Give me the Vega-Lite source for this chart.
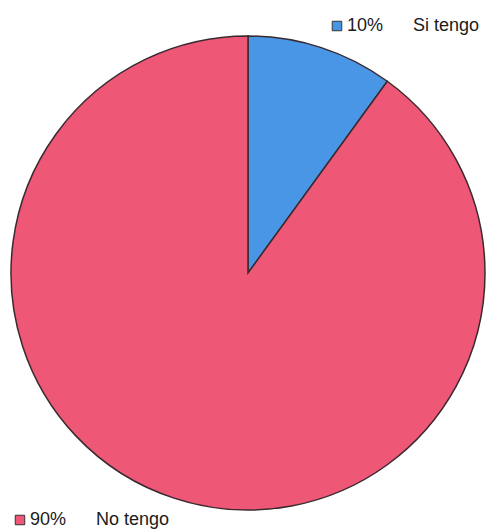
{
  "$schema": "https://vega.github.io/schema/vega-lite/v6.json",
  "width": 474,
  "height": 474,
  "autosize": {"type": "none"},
  "padding": {"left": 11, "top": 36, "right": 2, "bottom": 22},
  "background": "white",
  "config": {"view": {"stroke": null}, "font": "Liberation Sans"},
  "data": {"values": [
    {"respuesta": "Si tengo", "porcentaje": "10%", "valor": 10},
    {"respuesta": "No tengo", "porcentaje": "90%", "valor": 90}
  ]},
  "resolve": {"scale": {"color": "independent"}, "legend": {"color": "independent"}},
  "layer": [
    {
      "mark": {"type": "arc", "outerRadius": 237, "stroke": "#3a2a30", "strokeWidth": 1.5},
      "encoding": {
        "theta": {"field": "valor", "type": "quantitative", "stack": true},
        "order": {"field": "respuesta", "sort": "descending"},
        "color": {"field": "respuesta", "type": "nominal",
          "scale": {"domain": ["Si tengo", "No tengo"], "range": ["#4a96e6", "#ef5776"]},
          "legend": null}
      }
    },
    {
      "transform": [
        {"filter": "datum.respuesta == 'Si tengo'"},
        {"calculate": "datum.porcentaje + '\u00a0\u00a0\u00a0\u00a0\u00a0\u00a0' + datum.respuesta", "as": "leyenda"}
      ],
      "mark": {"type": "square", "opacity": 0},
      "encoding": {
        "color": {"field": "leyenda", "type": "nominal",
          "scale": {"range": ["#4a96e6"]},
          "legend": {"title": null, "orient": "none", "legendX": 317, "legendY": -19,
            "padding": 0, "symbolType": "square", "symbolSize": 90, "symbolOpacity": 1,
            "symbolStrokeColor": "#333333", "symbolStrokeWidth": 1,
            "labelFontSize": 18, "labelColor": "#1a1a1a", "labelOffset": 1, "labelLimit": 300}}
      }
    },
    {
      "transform": [
        {"filter": "datum.respuesta == 'No tengo'"},
        {"calculate": "datum.porcentaje + '\u00a0\u00a0\u00a0\u00a0\u00a0\u00a0' + datum.respuesta", "as": "leyenda"}
      ],
      "mark": {"type": "square", "opacity": 0},
      "encoding": {
        "color": {"field": "leyenda", "type": "nominal",
          "scale": {"range": ["#ef5776"]},
          "legend": {"title": null, "orient": "none", "legendX": 0, "legendY": 475,
            "padding": 0, "symbolType": "square", "symbolSize": 90, "symbolOpacity": 1,
            "symbolStrokeColor": "#333333", "symbolStrokeWidth": 1,
            "labelFontSize": 18, "labelColor": "#1a1a1a", "labelOffset": 1, "labelLimit": 300}}
      }
    }
  ]
}
